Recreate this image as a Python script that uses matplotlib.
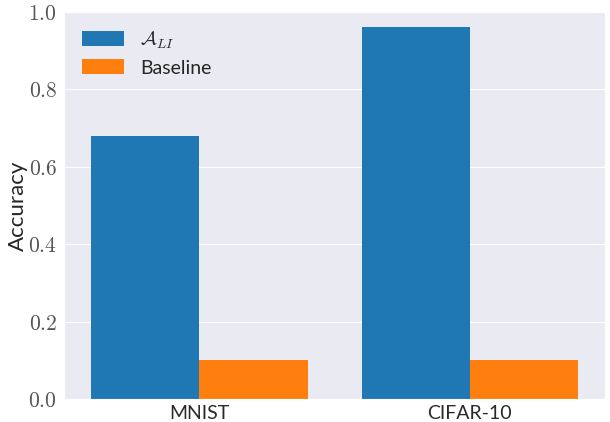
import matplotlib
matplotlib.use("Agg")
import matplotlib.pyplot as plt
import numpy as np
import seaborn as sns

# datos
datasets = ["MNIST", "CIFAR-10"]
acc_ali = [0.68, 0.96]
acc_base = [0.10, 0.10]
series = [r"$\mathcal{A}_{LI}$", "Baseline"]

sns.set_style("darkgrid")
plt.rcParams["font.family"] = ["Lato", "DejaVu Sans"]
plt.rcParams["mathtext.fontset"] = "cm"

fig = plt.figure(figsize=(6.1, 4.22), dpi=100)
ax = fig.add_axes([0.105, 0.0545, 0.887, 0.9175])

x = np.arange(len(datasets))
w = 0.4
ax.bar(x - w / 2, acc_ali, width=w, color="#1f77b4", label=series[0], linewidth=0)
ax.bar(x + w / 2, acc_base, width=w, color="#ff7f0e", label=series[1], linewidth=0)

ax.set_xlim(-0.5, len(datasets) - 0.5)
ax.set_ylim(0, 1.0)
ax.set_xticks(x)
ax.set_xticklabels(datasets, fontsize=14)
yt = np.arange(0, 1.01, 0.2)
ax.set_yticks(yt)
ax.set_yticklabels([f"${v:.1f}$" for v in yt], fontsize=15.5, color="#555555")
ax.tick_params(axis="x", colors="#2a2a2a", pad=1)
ax.tick_params(axis="y", pad=1.5)
ax.grid(axis="x", visible=False)
ax.set_ylabel("Accuracy", fontsize=16, labelpad=0)

ax.legend(loc="upper left", fontsize=14, frameon=False, handlelength=2.2,
          handleheight=0.8, borderaxespad=0.5, labelspacing=0.45)

fig.savefig("out.png", dpi=100)
